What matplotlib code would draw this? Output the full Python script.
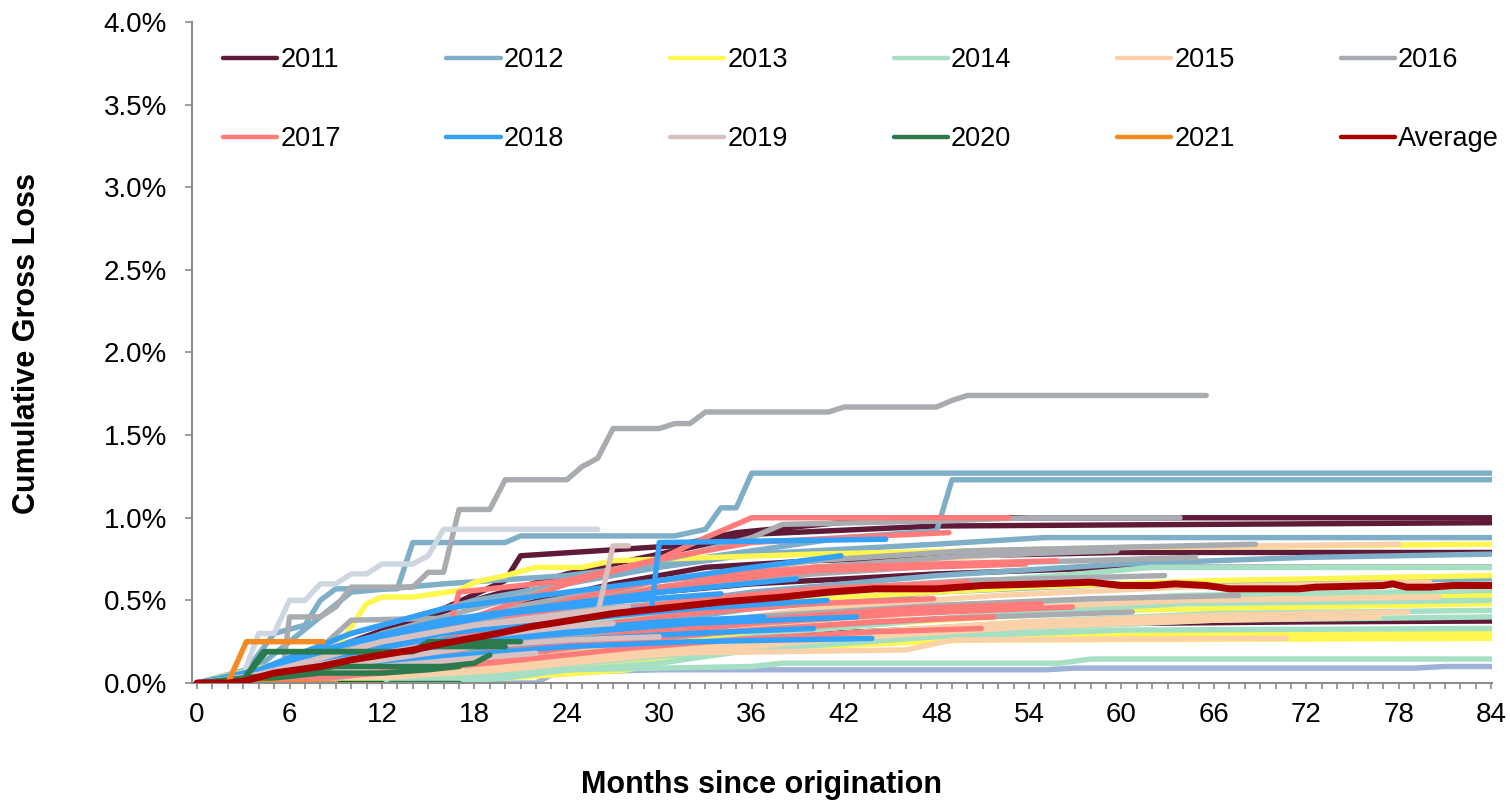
import matplotlib
matplotlib.use("Agg")
import matplotlib.pyplot as plt
from matplotlib.ticker import MultipleLocator, FuncFormatter

plt.rcParams["font.family"] = ["Liberation Sans", "DejaVu Sans"]

# each series: (months, cumulative gross loss in %) at its breakpoints
v2011 = [
    ([0, 4, 10, 16, 20, 21, 31, 35, 45, 84], [0, 0.05, 0.25, 0.45, 0.62, 0.77, 0.83, 0.91, 1.0, 1.0]),
    ([0, 5, 12, 18, 24, 30, 36, 48, 84], [0, 0.08, 0.30, 0.50, 0.66, 0.78, 0.90, 0.95, 0.97]),
    ([0, 6, 12, 20, 27, 33, 40, 50, 60, 84], [0, 0.05, 0.20, 0.45, 0.60, 0.70, 0.74, 0.77, 0.79, 0.79]),
    ([0, 6, 12, 18, 24, 36, 48, 60, 84], [0, 0.05, 0.18, 0.35, 0.50, 0.60, 0.66, 0.70, 0.70]),
    ([0, 8, 16, 24, 36, 48, 60, 72, 84], [0, 0.02, 0.10, 0.20, 0.28, 0.33, 0.36, 0.37, 0.375]),
]
v2012 = [
    ([0, 3, 5, 7, 8, 9, 13, 14, 20, 21, 31, 32, 33, 34, 35, 36, 84],
     [0, 0.05, 0.30, 0.35, 0.50, 0.57, 0.57, 0.85, 0.85, 0.89, 0.89, 0.91, 0.93, 1.06, 1.06, 1.27, 1.27]),
    ([0, 4, 8, 10, 16, 24, 30, 36, 42, 48, 49, 84], [0, 0.10, 0.40, 0.55, 0.60, 0.65, 0.72, 0.80, 0.88, 0.92, 1.23, 1.23]),
    ([0, 5, 10, 18, 24, 30, 36, 48, 55, 84], [0, 0.10, 0.30, 0.50, 0.60, 0.70, 0.78, 0.84, 0.88, 0.88]),
    ([0, 6, 12, 24, 36, 48, 60, 72, 84], [0, 0.05, 0.20, 0.40, 0.55, 0.65, 0.72, 0.76, 0.78]),
    ([0, 6, 12, 24, 36, 48, 60, 84], [0, 0.03, 0.12, 0.30, 0.45, 0.55, 0.60, 0.63]),
]
v2013 = [
    ([0, 9, 10, 11, 12, 14, 17, 18, 20, 22, 25, 27, 40, 60, 84],
     [0, 0.20, 0.34, 0.48, 0.52, 0.52, 0.56, 0.61, 0.65, 0.70, 0.70, 0.74, 0.78, 0.82, 0.84]),
    ([0, 6, 12, 20, 30, 42, 54, 66, 84], [0, 0.05, 0.15, 0.30, 0.42, 0.52, 0.58, 0.62, 0.65]),
    ([0, 6, 12, 24, 36, 48, 60, 84], [0, 0.02, 0.10, 0.25, 0.38, 0.45, 0.50, 0.53]),
    ([0, 8, 16, 24, 36, 48, 60, 84], [0, 0.03, 0.10, 0.20, 0.30, 0.38, 0.44, 0.48]),
    ([0, 10, 20, 28, 31, 36, 48, 60, 84], [0, 0, 0.03, 0.08, 0.15, 0.22, 0.27, 0.29, 0.30]),
    ([0, 10, 20, 30, 40, 50, 84], [0, 0.02, 0.08, 0.15, 0.22, 0.26, 0.27]),
]
v2014 = [
    ([0, 6, 12, 24, 36, 48, 56, 62, 84], [0, 0.05, 0.15, 0.35, 0.50, 0.60, 0.65, 0.70, 0.70]),
    ([0, 8, 16, 28, 40, 52, 64, 84], [0, 0.03, 0.10, 0.25, 0.38, 0.47, 0.53, 0.56]),
    ([0, 8, 16, 28, 40, 52, 64, 84], [0, 0.02, 0.08, 0.20, 0.32, 0.42, 0.48, 0.50]),
    ([0, 8, 18, 30, 42, 54, 66, 84], [0, 0.02, 0.08, 0.18, 0.30, 0.37, 0.42, 0.44]),
    ([0, 9, 18, 30, 42, 54, 66, 84], [0, 0.02, 0.06, 0.16, 0.26, 0.33, 0.38, 0.40]),
    ([0, 10, 20, 30, 36, 48, 60, 84], [0, 0.02, 0.05, 0.12, 0.20, 0.28, 0.32, 0.33]),
    ([0, 14, 20, 24, 36, 38, 56, 58, 84], [0, 0, 0.03, 0.08, 0.10, 0.12, 0.12, 0.145, 0.145]),
]
v2015 = [
    ([0, 6, 12, 24, 36, 48, 60, 78], [0, 0.05, 0.20, 0.45, 0.65, 0.75, 0.82, 0.84]),
    ([0, 8, 16, 28, 40, 52, 64, 80], [0, 0.03, 0.12, 0.30, 0.45, 0.53, 0.58, 0.61]),
    ([0, 8, 16, 28, 40, 52, 64, 80.6], [0, 0.03, 0.10, 0.25, 0.38, 0.45, 0.50, 0.52]),
    ([0, 8, 18, 30, 42, 54, 66, 78.6], [0, 0.02, 0.08, 0.20, 0.30, 0.37, 0.41, 0.43]),
    ([0, 9, 18, 30, 42, 54, 66, 76.7], [0, 0.02, 0.07, 0.17, 0.27, 0.34, 0.38, 0.40]),
    ([0, 10, 20, 30, 46, 49, 70.7], [0, 0.02, 0.08, 0.18, 0.20, 0.26, 0.27]),
]
v2016 = [
    ([0, 5.5, 6, 8, 9, 10, 14, 15, 16, 17, 19, 20, 24, 25, 26, 27, 30, 31, 32, 33, 41, 42, 48, 49, 50, 65.5],
     [0, 0.03, 0.40, 0.40, 0.46, 0.58, 0.58, 0.67, 0.67, 1.05, 1.05, 1.23, 1.23, 1.31, 1.36, 1.54, 1.54,
      1.57, 1.57, 1.64, 1.64, 1.67, 1.67, 1.71, 1.74, 1.74]),
    ([0, 6, 12, 20, 28, 32, 36, 38, 48, 54, 63.8], [0, 0.10, 0.30, 0.50, 0.70, 0.78, 0.88, 0.96, 0.98, 1.0, 1.0]),
    ([0, 6, 12, 20, 30, 40, 50, 68.7], [0, 0.06, 0.25, 0.45, 0.62, 0.74, 0.80, 0.84]),
    ([0, 6, 12, 20, 30, 40, 50, 59.7], [0, 0.05, 0.22, 0.42, 0.58, 0.70, 0.77, 0.80]),
    ([0, 6, 12, 20, 30, 40, 50, 64.8], [0, 0.04, 0.20, 0.40, 0.55, 0.66, 0.72, 0.76]),
    ([0, 6, 10, 20, 30, 40, 50, 62.8], [0, 0.04, 0.38, 0.40, 0.48, 0.56, 0.62, 0.65]),
    ([0, 8, 16, 24, 36, 48, 58, 67.6], [0, 0.03, 0.15, 0.28, 0.40, 0.47, 0.51, 0.53]),
    ([0, 8, 16, 24, 36, 48, 60.7], [0, 0.02, 0.12, 0.22, 0.32, 0.39, 0.43]),
]
v2017 = [
    ([0, 6, 12, 16, 17, 24, 30, 33, 36, 52.7], [0, 0.02, 0.10, 0.20, 0.55, 0.62, 0.75, 0.88, 1.0, 1.0]),
    ([0, 6, 12, 18, 24, 30, 36, 42, 48.8], [0, 0.05, 0.18, 0.40, 0.60, 0.75, 0.85, 0.88, 0.91]),
    ([0, 6, 12, 18, 24, 30, 40, 55.8], [0, 0.04, 0.15, 0.32, 0.50, 0.62, 0.70, 0.74]),
    ([0, 6, 12, 18, 24, 30, 40, 53.8], [0, 0.04, 0.14, 0.30, 0.46, 0.58, 0.68, 0.72]),
    ([0, 6, 12, 18, 24, 32, 40, 50], [0, 0.03, 0.12, 0.26, 0.40, 0.50, 0.57, 0.61]),
    ([0, 6, 12, 18, 24, 32, 40, 47.8], [0, 0.03, 0.10, 0.22, 0.33, 0.42, 0.48, 0.51]),
    ([0, 6, 12, 20, 28, 36, 46, 56.8], [0, 0.02, 0.08, 0.18, 0.28, 0.36, 0.42, 0.46]),
    ([0, 6, 12, 20, 28, 36, 46, 54.8], [0, 0.02, 0.09, 0.20, 0.30, 0.38, 0.45, 0.48]),
    ([0, 6, 12, 20, 28, 36, 44, 51.7], [0, 0.02, 0.07, 0.16, 0.26, 0.32, 0.37, 0.40]),
    ([0, 6, 12, 20, 28, 36, 44, 50.9], [0, 0.02, 0.06, 0.13, 0.21, 0.27, 0.31, 0.33]),
]
v2018 = [
    ([0, 4, 8, 12, 18, 24, 29.5, 30, 44.7], [0, 0.05, 0.15, 0.25, 0.35, 0.42, 0.45, 0.85, 0.87]),
    ([0, 4, 10, 16, 24, 30, 36, 41.8], [0, 0.08, 0.30, 0.45, 0.55, 0.62, 0.70, 0.77]),
    ([0, 4, 10, 16, 24, 30, 38.9], [0, 0.06, 0.25, 0.38, 0.48, 0.55, 0.63]),
    ([0, 4, 10, 16, 24, 32, 40.9], [0, 0.04, 0.18, 0.30, 0.38, 0.45, 0.50]),
    ([0, 4, 10, 16, 24, 32, 42.8], [0, 0.03, 0.14, 0.24, 0.30, 0.36, 0.40]),
    ([0, 4, 10, 16, 24, 32, 40], [0, 0.03, 0.12, 0.20, 0.26, 0.30, 0.33]),
    ([0, 4, 10, 16, 24, 32, 43.8], [0, 0.02, 0.10, 0.16, 0.22, 0.25, 0.27]),
    ([0, 4, 10, 16, 24, 30, 36.8], [0, 0.04, 0.16, 0.26, 0.32, 0.37, 0.40]),
    ([0, 4, 8, 14, 20, 28, 34], [0, 0.05, 0.20, 0.32, 0.42, 0.50, 0.54]),
]
v2019 = [
    ([0, 3, 6, 12, 18, 24, 28], [0, 0.03, 0.10, 0.25, 0.35, 0.42, 0.46]),
    ([0, 3, 6, 12, 18, 24, 27], [0, 0.03, 0.08, 0.18, 0.28, 0.34, 0.36]),
    ([0, 3, 6, 12, 18, 24, 30], [0, 0.02, 0.06, 0.14, 0.22, 0.26, 0.28]),
    ([0, 3, 6, 12, 18, 22], [0, 0.02, 0.05, 0.10, 0.15, 0.18]),
    ([0, 4, 8, 12, 18, 24, 26, 27, 28], [0, 0.05, 0.15, 0.25, 0.35, 0.40, 0.42, 0.83, 0.83]),
]
v2020 = [
    ([0, 3, 4.3, 14, 15, 21], [0, 0.02, 0.19, 0.19, 0.25, 0.25]),
    ([0, 3, 4.5, 14, 15, 20], [0, 0.02, 0.19, 0.19, 0.22, 0.22]),
    ([0, 5, 9, 16, 18, 19], [0, 0.05, 0.10, 0.10, 0.12, 0.17]),
    ([0, 5, 8, 12, 15, 17], [0, 0.03, 0.06, 0.06, 0.08, 0.10]),
    ([12.5, 17], [0, 0]),
]
v2021 = [
    ([0, 2, 3.2, 8.2], [0, 0, 0.25, 0.25]),
    ([0, 9], [0, 0]),
]
# series without a legend entry
v_lightgrey = ([0, 3, 4, 5, 6, 7, 8, 9, 10, 11, 12, 14, 15, 16, 26],
               [0, 0.05, 0.30, 0.30, 0.50, 0.50, 0.60, 0.60, 0.66, 0.66, 0.72, 0.72, 0.77, 0.93, 0.93])
v_periwinkle = ([0, 17, 22, 23, 26, 30, 55, 57, 79, 81, 84],
                [0, 0, 0, 0.05, 0.07, 0.08, 0.08, 0.09, 0.09, 0.10, 0.10])
v_darkgreen = ([9, 12], [0, 0])

avg_months = [0, 2, 3, 5, 8, 10, 14, 16, 19.5, 21.6, 25, 27, 31, 34, 38, 41, 44, 48, 51, 55, 58, 60, 62,
              63.5, 65.5, 67, 71.5, 72.6, 77, 77.6, 78.5, 80, 81.5, 84]
avg_values = [0, 0, 0.01, 0.06, 0.10, 0.14, 0.20, 0.24, 0.30, 0.34, 0.39, 0.42, 0.46, 0.49, 0.52, 0.55, 0.57,
              0.57, 0.59, 0.60, 0.61, 0.59, 0.59, 0.60, 0.59, 0.57, 0.57, 0.58, 0.59, 0.60, 0.58, 0.58, 0.59, 0.59]

years = ["2011", "2012", "2013", "2014", "2015", "2016", "2017", "2018", "2019", "2020", "2021"]
year_series = [v2011, v2012, v2013, v2014, v2015, v2016, v2017, v2018, v2019, v2020, v2021]
year_colors = ["#5E1A36", "#7FAEC8", "#FFF650", "#A6E0C4", "#FAD1A8", "#A8ACB1",
               "#FF7C7A", "#33A0FA", "#D9C0C0", "#2A7A4E", "#F58A22"]
avg_color = "#A80000"

LW = 3.9


def draw_line(ax, months, values, color, lw=LW, zorder=2):
    line, = ax.plot(months, values, color=color, linewidth=lw, solid_capstyle="round",
                    solid_joinstyle="round", zorder=zorder)
    return line


def main():
    fig = plt.figure(figsize=(15.1, 8.06), dpi=100)
    ax = fig.add_axes([192 / 1510, 123 / 806, 1300 / 1510, 661 / 806])

    handles = {}
    draw_line(ax, *v_periwinkle, "#9DB2D6")
    for year, series, color in zip(years, year_series, year_colors):
        for months, values in series:
            handles[year] = draw_line(ax, months, values, color)
        if year == "2016":
            draw_line(ax, *v_lightgrey, "#CED6E2")
        if year == "2019":
            draw_line(ax, *v_darkgreen, "#006B00")
    handles["Average"] = draw_line(ax, avg_months, avg_values, avg_color, lw=5.0, zorder=3)

    ax.set_xlim(-0.33, 84.05)
    ax.set_ylim(0, 4.0)
    ax.xaxis.set_major_locator(MultipleLocator(6))
    ax.xaxis.set_minor_locator(MultipleLocator(1))
    ax.yaxis.set_major_locator(MultipleLocator(0.5))
    ax.yaxis.set_major_formatter(FuncFormatter(lambda v, p: f"{v:.1f}%"))

    for side in ["top", "right"]:
        ax.spines[side].set_visible(False)
    for side in ["left", "bottom"]:
        ax.spines[side].set_color("#8C8C8C")
        ax.spines[side].set_linewidth(1.5)
    ax.tick_params(axis="both", which="both", direction="out", color="#8C8C8C", width=1.2,
                   labelsize=20, labelcolor="black")
    ax.tick_params(axis="x", which="both", length=4, pad=10)
    ax.tick_params(axis="y", length=5, pad=13)

    fig.text(761 / 1510, 1 - 785 / 806, "Months since origination", fontsize=22, fontweight="bold",
             ha="center", va="center")
    fig.text(27 / 1510, 1 - 344 / 806, "Cumulative Gross Loss", fontsize=22, fontweight="bold",
             ha="center", va="center", rotation=90)

    # legend laid out row by row, as in the reference
    order = ["2011", "2017", "2012", "2018", "2013", "2019", "2014", "2020", "2015", "2021", "2016", "Average"]
    leg = ax.legend([handles[k] for k in order], order, ncol=6, loc="upper left",
                    bbox_to_anchor=(0.0238, 0.962), frameon=False, fontsize=19.5,
                    handlelength=2.0, handletextpad=0.12, columnspacing=3.9, labelspacing=1.96,
                    borderpad=0, borderaxespad=0)
    for h in leg.legend_handles:
        h.set_linewidth(3.2)

    fig.savefig("out.png", dpi=100)
    plt.close(fig)


if __name__ == "__main__":
    main()
